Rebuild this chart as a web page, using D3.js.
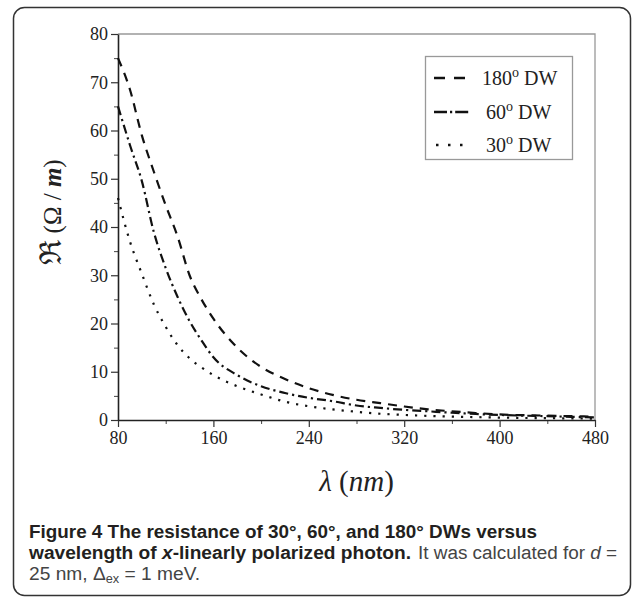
<!DOCTYPE html>
<html>
<head>
<meta charset="utf-8">
<script src="https://cdn.jsdelivr.net/npm/d3@7"></script>
<style>
  body { margin: 0; background: #fff; }
  svg { display: block; }
  .tick text { font-family: "Liberation Serif", "Times New Roman", serif; font-size: 18px; fill: #222; }
</style>
</head>
<body>
<svg id="chart" width="632" height="598"></svg>
<script>
// wavelength in nm (x), resistance in ohm per metre (y)
const wavelength = [80, 90, 100, 110, 120, 130, 140, 150, 160, 180, 200, 220, 240,
  260, 280, 300, 320, 340, 360, 380, 400, 420, 440, 460, 480];
const dw180 = [75, 68.5, 59, 51.5, 44.5, 38, 30, 25, 21, 15, 11, 8.5, 6.6,
  5.2, 4.2, 3.5, 2.8, 2.2, 1.8, 1.45, 1.15, 1.0, 0.9, 0.8, 0.7];
const dw60 = [65, 57, 49.5, 39, 31.5, 25.5, 20.5, 16.5, 13, 9.3, 7.0, 5.6, 4.6,
  3.9, 3.0, 2.5, 2.1, 1.8, 1.5, 1.25, 1.05, 0.9, 0.8, 0.65, 0.55];
const dw30 = [46, 37, 30.3, 24, 19.3, 15.5, 12.8, 10.9, 9.3, 7.0, 5.3, 3.8, 2.85,
  2.2, 1.7, 1.3, 1.05, 0.85, 0.7, 0.6, 0.5, 0.42, 0.38, 0.33, 0.3];
const seriesNames = ["180", "60", "30"];
const xTicks = [80, 160, 240, 320, 400, 480];
const yTicks = [0, 10, 20, 30, 40, 50, 60, 70, 80];

const svg = d3.select("#chart");
const margin = { left: 118, top: 34, right: 37, bottom: 178 };
const width = 632 - margin.left - margin.right;
const height = 598 - margin.top - margin.bottom;

// outer frame of the figure panel
svg.append("rect")
  .attr("x", 13.5).attr("y", 7.5)
  .attr("width", 617).attr("height", 588)
  .attr("rx", 11)
  .attr("fill", "none")
  .attr("stroke", "#333")
  .attr("stroke-width", 1.5);

const g = svg.append("g").attr("transform", `translate(${margin.left},${margin.top})`);

const x = d3.scaleLinear().domain([80, 480]).range([0, width]);
const y = d3.scaleLinear().domain([0, 80]).range([height, 0]);

// top and right border
g.append("path")
  .attr("d", `M0,0H${width}V${height}`)
  .attr("fill", "none")
  .attr("stroke", "#999")
  .attr("stroke-width", 1.3);

// minor ticks
g.append("g")
  .attr("transform", `translate(0,${height})`)
  .call(d3.axisBottom(x).tickValues(d3.range(120, 480, 80)).tickSize(4).tickFormat(""))
  .call(a => a.select(".domain").remove())
  .selectAll("line").attr("stroke", "#444");
g.append("g")
  .call(d3.axisLeft(y).tickValues(d3.range(5, 80, 10)).tickSize(4).tickFormat(""))
  .call(a => a.select(".domain").remove())
  .selectAll("line").attr("stroke", "#444");

const xAxis = g.append("g")
  .attr("transform", `translate(0,${height})`)
  .call(d3.axisBottom(x).tickValues(xTicks).tickSize(7).tickPadding(4).tickSizeOuter(0));
const yAxis = g.append("g")
  .call(d3.axisLeft(y).tickValues(yTicks).tickSize(7).tickPadding(3).tickSizeOuter(0));
[xAxis, yAxis].forEach(a => {
  a.select(".domain").attr("stroke", "#222").attr("stroke-width", 1.6);
  a.selectAll(".tick line").attr("stroke", "#333").attr("stroke-width", 1.2);
});

const styles = {
  "180": "9,7",
  "60": "9,4,2.2,4",
  "30": "2.2,7"
};
const seriesData = {
  "180": dw180,
  "60": dw60,
  "30": dw30
};

const line = d3.line()
  .x(d => x(d[0]))
  .y(d => y(d[1]))
  .curve(d3.curveMonotoneX);

seriesNames.forEach(name => {
  const pts = wavelength.map((w, i) => [w, seriesData[name][i]]);
  g.append("path")
    .datum(pts)
    .attr("d", line)
    .attr("fill", "none")
    .attr("stroke", "#111")
    .attr("stroke-width", 2.2)
    .attr("stroke-dasharray", styles[name]);
});

// legend
const legend = svg.append("g");
legend.append("rect")
  .attr("x", 425.5).attr("y", 56.5)
  .attr("width", 147).attr("height", 103)
  .attr("fill", "#fff")
  .attr("stroke", "#999")
  .attr("stroke-width", 1.3);
const legendRows = [
  { name: "180", cy: 78, tx: 482, label: "180" },
  { name: "60", cy: 112, tx: 486, label: "60" },
  { name: "30", cy: 145, tx: 486, label: "30" }
];
const legendDash = { "180": "11,9", "60": "13,3,2.2,3", "30": "2.5,9.5" };
legendRows.forEach(r => {
  legend.append("line")
    .attr("x1", r.name === "30" ? 436 : 434).attr("x2", 471)
    .attr("y1", r.cy).attr("y2", r.cy)
    .attr("stroke", "#111").attr("stroke-width", 2.4)
    .attr("stroke-dasharray", legendDash[r.name]);
  const t = legend.append("text")
    .attr("x", r.tx).attr("y", r.cy + 7)
    .attr("font-family", "'Liberation Serif', 'Times New Roman', serif")
    .attr("font-size", 20)
    .attr("fill", "#222");
  t.append("tspan").text(r.label);
  t.append("tspan").attr("dy", -8).attr("font-size", 14).text("o");
  t.append("tspan").attr("dy", 8).text(r.name === "180" ? " DW" : "  DW");
});

// axis titles
svg.append("text")
  .attr("transform", "translate(61,212) rotate(-90)")
  .attr("text-anchor", "middle")
  .attr("font-family", "'DejaVu Serif', 'Liberation Serif', serif")
  .attr("font-size", 25)
  .attr("fill", "#222")
  .call(t => {
    t.append("tspan").attr("font-size", 30).text("\u211C");
    t.append("tspan").attr("font-family", "'Liberation Serif', serif").text(" (\u03A9 / ");
    t.append("tspan").attr("font-family", "'Liberation Serif', serif")
      .attr("font-style", "italic").attr("font-weight", "bold").text("m");
    t.append("tspan").attr("font-family", "'Liberation Serif', serif").text(")");
  });

svg.append("text")
  .attr("x", margin.left + width / 2)
  .attr("y", 491)
  .attr("text-anchor", "middle")
  .attr("font-family", "'Liberation Serif', 'Times New Roman', serif")
  .attr("font-size", 29)
  .attr("fill", "#222")
  .call(t => {
    t.append("tspan").attr("font-style", "italic").text("\u03BB");
    t.append("tspan").text(" (");
    t.append("tspan").attr("font-style", "italic").text("nm");
    t.append("tspan").text(")");
  });

// caption
const capFont = "'Liberation Sans', Arial, sans-serif";
svg.append("text")
  .attr("x", 29).attr("y", 538)
  .attr("font-family", capFont).attr("font-size", 18).attr("font-weight", 700)
  .attr("fill", "#231f20")
  .attr("textLength", 508).attr("lengthAdjust", "spacingAndGlyphs")
  .text("Figure 4 The resistance of 30\u00B0, 60\u00B0, and 180\u00B0 DWs versus");
svg.append("text")
  .attr("x", 29).attr("y", 559)
  .attr("font-family", capFont).attr("font-size", 18).attr("font-weight", 700)
  .attr("fill", "#231f20")
  .attr("textLength", 382).attr("lengthAdjust", "spacingAndGlyphs")
  .call(t => {
    t.append("tspan").text("wavelength of ");
    t.append("tspan").attr("font-style", "italic").text("x");
    t.append("tspan").text("-linearly polarized photon.");
  });
svg.append("text")
  .attr("x", 418).attr("y", 559)
  .attr("font-family", capFont).attr("font-size", 18)
  .attr("fill", "#444")
  .attr("textLength", 199).attr("lengthAdjust", "spacingAndGlyphs")
  .call(t => {
    t.append("tspan").text("It was calculated for ");
    t.append("tspan").attr("font-style", "italic").text("d");
    t.append("tspan").text(" =");
  });
svg.append("text")
  .attr("x", 29).attr("y", 580)
  .attr("font-family", capFont).attr("font-size", 18)
  .attr("fill", "#444")
  .attr("textLength", 171).attr("lengthAdjust", "spacingAndGlyphs")
  .call(t => {
    t.append("tspan").text("25 nm, \u0394");
    t.append("tspan").attr("font-size", 12).attr("dy", 3).text("ex");
    t.append("tspan").attr("dy", -3).text(" = 1 meV.");
  });
</script>
</body>
</html>
